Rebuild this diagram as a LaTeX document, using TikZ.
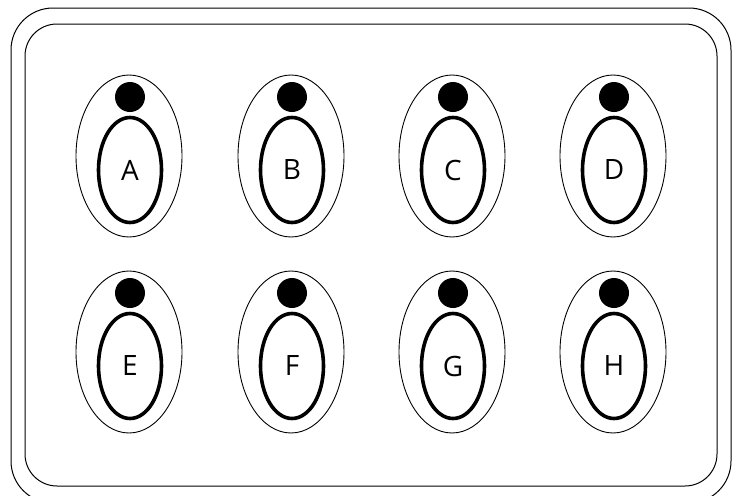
\documentclass[tikz,border=0pt]{standalone}
\usepackage{fontspec}
\setmainfont{Open Sans}
\usetikzlibrary{shapes.geometric}
\begin{document}
\begin{tikzpicture}[x=1pt,y=-1pt,
  shell/.style={ellipse,draw,line width=0.9pt,minimum width=106pt,minimum height=162pt,inner sep=0pt},
  seat/.style={ellipse,draw,line width=3.6pt,minimum width=63pt,minimum height=105pt,inner sep=0pt,font=\fontsize{28}{32}\selectfont},
  head/.style={circle,fill=black,minimum size=30pt,inner sep=0pt},
  frame/.style={draw,line width=1pt}]
\path[use as bounding box] (0,0) rectangle (732,496);
\begin{scope}
\clip (0,0) rectangle (732,496);
\draw[frame,rounded corners=42pt] (11,8) rectangle (731,503);
\draw[frame,rounded corners=32pt] (25,24) rectangle (717,486);
\end{scope}
\foreach \lab/\x/\y in {A/129/156,B/291/156,C/452/156,D/613/156,E/129/352,F/291/352,G/452/352,H/613/352}{
  \node[shell] (o\lab) at (\x,\y) {};
  \node[head] (h\lab) at (\x+1,\y-59) {};
  \node[seat] (s\lab) at (\x+1,\y+14) {\lab};
}
\end{tikzpicture}
\end{document}
